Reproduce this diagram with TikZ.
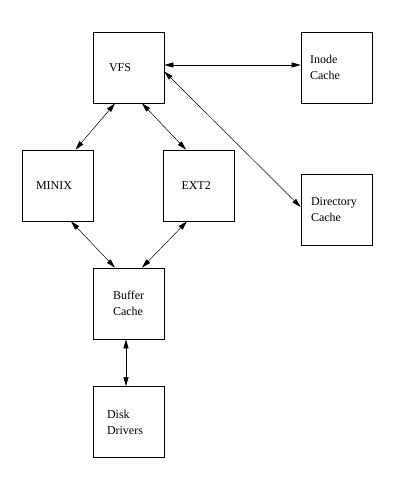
\documentclass[tikz,border=0pt]{standalone}
\usepackage{fontspec}
\setmainfont{Liberation Serif}
\usetikzlibrary{arrows.meta}
\begin{document}
\begin{tikzpicture}[x=1pt,y=-1pt,
  box/.style 2 args={draw, line width=0.7pt, minimum height=71pt, inner ysep=0pt,
    inner xsep=#1, text width=#2, align=left,
    font=\fontsize{12pt}{16pt}\selectfont},
  link/.style={line width=0.5pt, {Triangle[length=9pt,width=5pt]}-{Triangle[length=9pt,width=5pt]}}]
\useasboundingbox (0,0) rectangle (400,481);
\node[box={16pt}{39pt}] (vfs) at (128.5,67.5) {VFS};
\node[box={9pt}{53pt}] (inode) at (336.5,67.5) {Inode\\Cache};
\node[box={14pt}{43pt}] (minix) at (57.5,185.5) {MINIX};
\node[box={18pt}{35pt}] (ext2) at (199,185.5) {EXT2};
\node[box={10pt}{51pt}] (dir) at (336.5,209.5) {Directory\\Cache};
\node[box={20pt}{31pt}] (buf) at (128.5,303.5) {Buffer\\Cache};
\node[box={14pt}{43pt}] (disk) at (128.5,422) {Disk\\Drivers};
\draw[link] ([yshift=2.5pt]vfs.east) -- ([yshift=2.5pt]inode.west);
\draw[link] ([yshift=-4pt]vfs.east) -- ([yshift=2.5pt]dir.west);
\draw[link] ([xshift=-13.5pt]vfs.south) -- ([xshift=18pt]minix.north);
\draw[link] ([xshift=13.5pt]vfs.south) -- ([xshift=-13pt]ext2.north);
\draw[link] ([xshift=13.5pt]minix.south) -- ([xshift=-13.5pt]buf.north);
\draw[link] ([xshift=-12pt]ext2.south) -- ([xshift=13.5pt]buf.north);
\draw[link] ([xshift=-2.5pt]buf.south) -- ([xshift=-2.5pt]disk.north);
\end{tikzpicture}
\end{document}
